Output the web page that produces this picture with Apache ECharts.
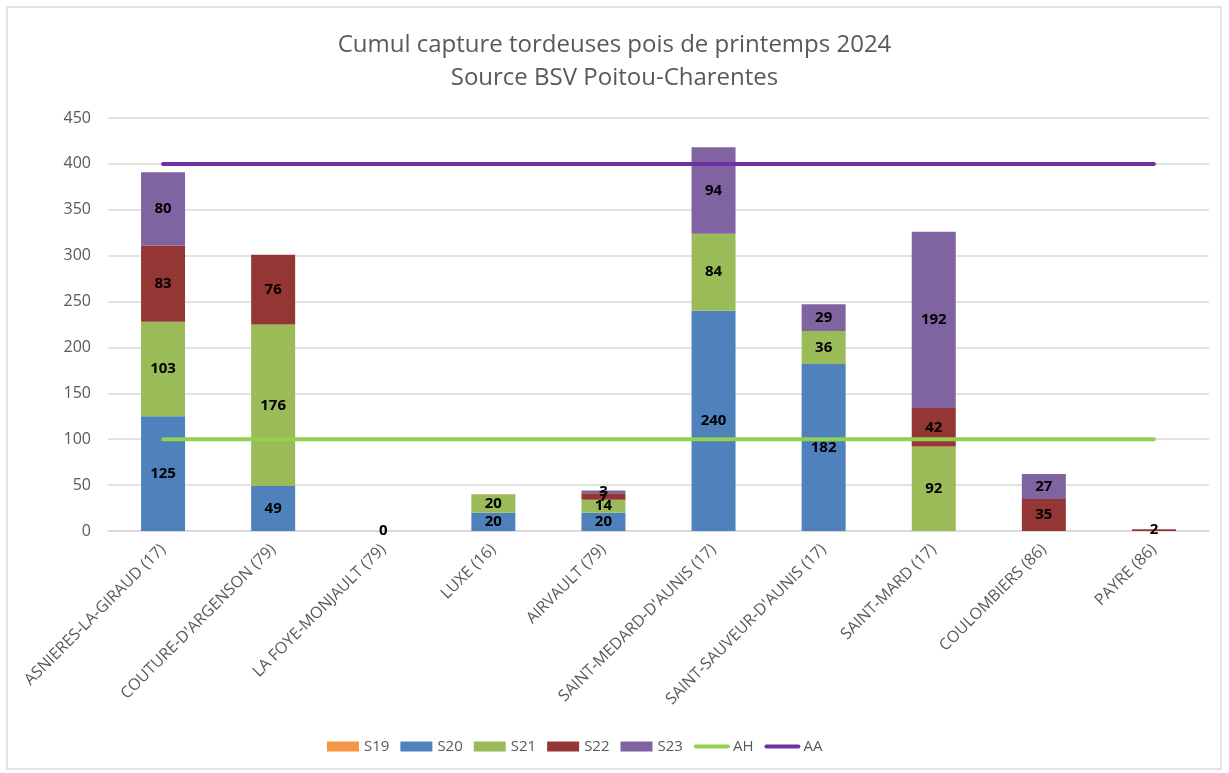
<!DOCTYPE html>
<html>
<head>
<meta charset="utf-8">
<script src="https://cdn.jsdelivr.net/npm/echarts@6/dist/echarts.min.js"></script>
<style>
  html, body { margin: 0; padding: 0; background: #ffffff; }
  #chart { width: 1229px; height: 773px; }
</style>
</head>
<body>
<div id="chart"></div>
<script>
// Trap sites (communes)
const sites = [
  "ASNIERES-LA-GIRAUD (17)", "COUTURE-D'ARGENSON (79)", "LA FOYE-MONJAULT (79)",
  "LUXE (16)", "AIRVAULT (79)", "SAINT-MEDARD-D'AUNIS (17)",
  "SAINT-SAUVEUR-D'AUNIS (17)", "SAINT-MARD (17)", "COULOMBIERS (86)", "PAYRE (86)"
];

// Weekly captures (null = no record)
const s19 = [null, null, null, null, null, null, null, null, null, null];
const s20 = [125, 49, 0, 20, 20, 240, 182, null, null, null];
const s21 = [103, 176, null, 20, 14, 84, 36, 92, null, null];
const s22 = [83, 76, null, null, 7, null, null, 42, 35, 2];
const s23 = [80, null, null, null, 3, 94, 29, 192, 27, null];

// Threshold lines
const ahLevel = 100;
const aaLevel = 400;
const ah = sites.map(() => ahLevel);
const aa = sites.map(() => aaLevel);

const yTicks = { min: 0, max: 450, interval: 50 };

const font = "'Open Sans', 'Noto Sans', sans-serif";

function barSeries(name, data, color) {
  return {
    name: name,
    type: 'bar',
    stack: 'total',
    data: data,
    barWidth: 44,
    itemStyle: { color: color },
    label: {
      show: true,
      position: 'inside',
      color: '#000000',
      fontWeight: 'bold',
      fontSize: 15,
      fontFamily: font,
      formatter: p => (p.value === null || p.value === undefined) ? '' : String(p.value)
    },
    z: 2
  };
}

function lineSeries(name, data, color) {
  return {
    name: name,
    type: 'line',
    data: data,
    symbol: 'none',
    lineStyle: { color: color, width: 4, cap: 'round' },
    itemStyle: { color: color },
    z: 5
  };
}

const chart = echarts.init(document.getElementById('chart'), null, { renderer: 'canvas' });
chart.setOption({
  animation: false,
  backgroundColor: '#ffffff',
  graphic: [{
    type: 'rect',
    shape: { x: 7, y: 7, width: 1214, height: 762 },
    style: { fill: 'none', stroke: '#d9d9d9', lineWidth: 1.5 },
    silent: true,
    z: -1
  }],
  title: {
    text: 'Cumul capture tordeuses pois de printemps 2024\nSource BSV Poitou-Charentes',
    left: 'center',
    top: 24,
    textStyle: {
      fontFamily: font,
      fontWeight: 'normal',
      fontSize: 24,
      color: '#595959',
      lineHeight: 33
    }
  },
  legend: {
    bottom: 14,
    left: 322,
    itemWidth: 32,
    itemHeight: 10,
    itemGap: 11,
    textStyle: { fontFamily: font, fontSize: 15, color: '#595959' },
    data: [
      { name: 'S19', icon: 'rect' },
      { name: 'S20', icon: 'rect' },
      { name: 'S21', icon: 'rect' },
      { name: 'S22', icon: 'rect' },
      { name: 'S23', icon: 'rect' },
      { name: 'AH', itemStyle: { opacity: 0 }, lineStyle: { width: 4, cap: 'round' } },
      { name: 'AA', itemStyle: { opacity: 0 }, lineStyle: { width: 4, cap: 'round' } }
    ]
  },
  grid: { left: 108, right: 20, top: 118, bottom: 242, containLabel: false },
  xAxis: {
    type: 'category',
    data: sites,
    axisTick: { show: false },
    axisLine: { lineStyle: { color: '#d9d9d9', width: 1.5 } },
    axisLabel: {
      rotate: 45,
      interval: 0,
      margin: 16,
      fontFamily: font,
      fontSize: 16,
      color: '#595959'
    }
  },
  yAxis: {
    type: 'value',
    min: yTicks.min,
    max: yTicks.max,
    interval: yTicks.interval,
    axisLine: { show: false },
    axisTick: { show: false },
    splitLine: { lineStyle: { color: '#d9d9d9', width: 1.5 } },
    axisLabel: { fontFamily: font, fontSize: 16, color: '#595959', margin: 17 }
  },
  series: [
    barSeries('S19', s19, '#F79646'),
    barSeries('S20', s20, '#4F81BD'),
    barSeries('S21', s21, '#9BBB59'),
    barSeries('S22', s22, '#943634'),
    barSeries('S23', s23, '#8064A2'),
    lineSeries('AH', ah, '#92D050'),
    lineSeries('AA', aa, '#7030A0')
  ]
});
</script>
</body>
</html>
